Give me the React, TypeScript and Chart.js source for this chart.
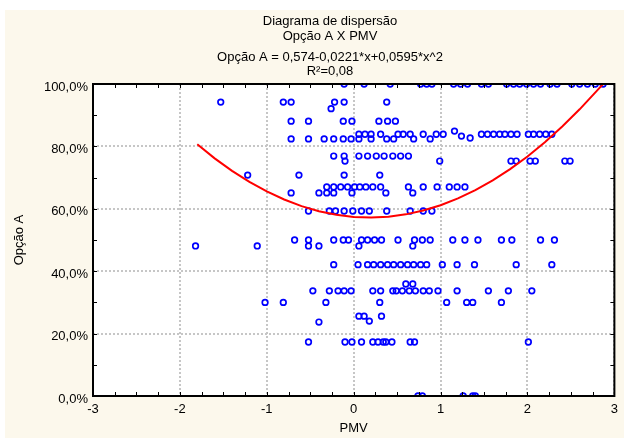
import React, { useEffect, useRef } from 'react';
import { Chart, registerables } from 'chart.js';

Chart.register(...registerables);

const titleLines = ['Diagrama de dispersão', 'Opção A X PMV', 'Opção A = 0,574-0,0221*x+0,0595*x^2', 'R²=0,08'];
const xAxisTitle = 'PMV';
const yAxisTitle = 'Opção A';
const xTickValues = [-3, -2, -1, 0, 1, 2, 3];
const xTickLabels = ['-3', '-2', '-1', '0', '1', '2', '3'];
const yTickValues = [0, 20, 40, 60, 80, 100];
const yTickLabels = ['0,0%', '20,0%', '40,0%', '60,0%', '80,0%', '100,0%'];

// Observed points (PMV, Opção A in %)
const pmv = [
  // 100%
  -0.11, 0.12, 0.42, 0.77, 0.84, 0.90, 1.15, 1.23, 1.31, 1.47, 1.55, 1.76, 1.84, 1.91, 1.99, 2.07, 2.15, 2.26, 2.34, 2.51, 2.60, 2.69, 2.78, 2.87,
  // ~94%
  -1.53, -0.81, -0.72, -0.22, -0.11, 0.38, -0.26,
  // ~88%
  -0.72, -0.52, -0.12, -0.02, 0.29, 0.39, 0.48,
  // ~82-85%
  -0.72, -0.52, -0.34, -0.23, -0.12, -0.03, 0.06, 0.13, 0.20, 0.06, 0.20, 0.31, 0.38, 0.46, 0.51, 0.57, 0.65, 0.69, 0.80, 0.88, 0.95, 1.03, 1.16, 1.24, 1.34, 1.47, 1.54, 1.61, 1.68, 1.74, 1.81, 1.88, 2.01, 2.07, 2.14, 2.21, 2.28,
  // ~77%
  -0.23, -0.11, 0.06, 0.16, 0.26, 0.35, 0.45, 0.54, 0.63,
  // ~75%
  -0.10, 0.99, 1.81, 1.87, 2.03, 2.09, 2.43, 2.49,
  // ~71%
  -1.22, -0.63, -0.11, 0.30,
  // ~67%
  -0.31, -0.23, -0.15, -0.07, 0.01, 0.07, 0.14, 0.22, 0.31, 0.63, 0.80, 0.96, 1.10, 1.19, 1.28,
  // ~65%
  -0.72, -0.40, -0.31, -0.23, -0.02, 0.37, 0.68,
  // ~59%
  -0.52, -0.28, -0.21, -0.11, -0.01, 0.09, 0.18, 0.38, 0.65, 0.80, 0.90,
  // ~50%
  -0.68, -0.52, -0.23, -0.12, -0.06, 0.09, 0.16, 0.24, 0.32, 0.51, 0.70, 0.79, 0.88, 1.14, 1.28, 1.43, 1.70, 1.82, 2.15, 2.31,
  // ~48%
  -1.82, -1.11, -0.52, -0.40, 0.06, 0.68,
  // ~42%
  -0.23, 0.05, 0.16, 0.23, 0.31, 0.39, 0.46, 0.54, 0.62, 0.69, 0.77, 0.84, 1.02, 1.19, 1.39, 1.87, 2.28,
  // ~33.7%
  -0.47, -0.28, -0.18, -0.11, -0.03, 0.22, 0.31, 0.45, 0.49, 0.56, 0.64, 0.71, 0.80, 0.87, 0.97, 1.19, 1.55, 1.78, 2.05,
  // ~36%
  0.60, 0.68,
  // ~30%
  -1.02, -0.81, -0.32, 0.30, 1.07, 1.30, 1.37, 1.70,
  // ~24-26%
  0.06, 0.12, 0.32, 0.18, -0.40,
  // ~17%
  -0.52, -0.10, -0.02, 0.09, 0.22, 0.28, 0.34, 0.37, 0.44, 0.65, 0.70, 2.01,
  // 0%
  0.74, 0.79, 1.26, 1.37, 1.40,
];

const opcaoA = [
  100, 100, 100, 100, 100, 100, 100, 100, 100, 100, 100, 100, 100, 100, 100, 100, 100, 100, 100, 100, 100, 100, 100, 100,
  94.2, 94.2, 94.2, 94.2, 94.2, 94.2, 92.1,
  88.1, 88.1, 88.1, 88.1, 88.1, 88.1, 88.1,
  82.4, 82.4, 82.4, 82.4, 82.4, 82.4, 83.9, 83.9, 83.9, 82.4, 82.4, 83.9, 82.4, 82.4, 83.9, 83.9, 83.9, 82.4, 83.9, 82.4, 83.9, 83.9, 84.9, 83.3, 82.7, 83.9, 83.9, 83.9, 83.9, 83.9, 83.9, 83.9, 83.9, 83.9, 83.9, 83.9, 83.9,
  76.9, 76.9, 76.9, 76.9, 76.9, 76.9, 76.9, 76.9, 76.9,
  75.3, 75.3, 75.3, 75.3, 75.3, 75.3, 75.3, 75.3,
  70.8, 70.8, 70.8, 70.8,
  67.0, 67.0, 67.0, 67.0, 67.0, 67.0, 67.0, 67.0, 67.0, 67.0, 67.0, 67.0, 67.0, 67.0, 67.0,
  65.1, 65.1, 65.1, 65.1, 65.1, 65.1, 65.1,
  59.3, 59.3, 59.3, 59.3, 59.3, 59.3, 59.3, 59.3, 59.3, 59.3, 59.3,
  50.0, 50.0, 50.0, 50.0, 50.0, 50.0, 50.0, 50.0, 50.0, 50.0, 50.0, 50.0, 50.0, 50.0, 50.0, 50.0, 50.0, 50.0, 50.0, 50.0,
  48.1, 48.1, 48.1, 48.1, 48.1, 48.1,
  42.1, 42.1, 42.1, 42.1, 42.1, 42.1, 42.1, 42.1, 42.1, 42.1, 42.1, 42.1, 42.1, 42.1, 42.1, 42.1, 42.1,
  33.7, 33.7, 33.7, 33.7, 33.7, 33.7, 33.7, 33.7, 33.7, 33.7, 33.7, 33.7, 33.7, 33.7, 33.7, 33.7, 33.7, 33.7, 33.7,
  35.9, 35.9,
  30.0, 30.0, 30.0, 30.0, 30.0, 30.0, 30.0, 30.0,
  25.6, 25.6, 25.6, 24.0, 23.7,
  17.3, 17.3, 17.3, 17.3, 17.3, 17.3, 17.3, 17.3, 17.3, 17.3, 17.3, 17.3,
  0, 0, 0, 0, 0,
];

// Fitted quadratic curve as drawn in the picture
const fitPmv = [-1.8, -1.6, -1.4, -1.2, -1.0, -0.8, -0.6, -0.4, -0.2, 0, 0.2, 0.4, 0.6, 0.8, 1.0, 1.2, 1.4, 1.6, 1.8, 2.0, 2.2, 2.4, 2.6, 2.8, 2.87];
const fitOpcaoA = [80.66, 76.17, 72.16, 68.62, 65.56, 62.98, 60.87, 59.24, 58.08, 57.40, 57.20, 57.47, 58.22, 59.44, 61.14, 63.32, 65.97, 69.10, 72.70, 76.78, 81.34, 86.37, 91.88, 97.86, 100.0];

const FONT = 'Arial, "Liberation Sans", sans-serif';
const CREAM = '#fcf8ec';

export default function App() {
  const ref = useRef<HTMLCanvasElement>(null);

  useEffect(() => {
    const canvas = ref.current;
    if (!canvas) return;
    const points = pmv.map((x, i) => ({ x, y: opcaoA[i] }));
    const fit = fitPmv.map((x, i) => ({ x, y: fitOpcaoA[i] }));

    const decor = {
      id: 'decor',
      beforeDraw(chart: any) {
        const { ctx, chartArea: a } = chart;
        ctx.save();
        ctx.fillStyle = '#ffffff';
        ctx.fillRect(0, 0, chart.width, chart.height);
        ctx.fillStyle = CREAM;
        ctx.fillRect(5, 10, chart.width - 5, 428);
        ctx.fillStyle = '#ffffff';
        ctx.fillRect(a.left, a.top, a.right - a.left, a.bottom - a.top);
        ctx.restore();
      },
      afterDatasetsDraw(chart: any) {
        const { ctx, chartArea: a, scales } = chart;
        ctx.save();
        ctx.strokeStyle = '#000';
        ctx.lineWidth = 1;
        ctx.beginPath();
        for (let i = -11; i <= 11; i++) {
          const px = Math.round(scales.x.getPixelForValue(i / 4)) + 0.5;
          ctx.moveTo(px, a.bottom);
          ctx.lineTo(px, a.bottom - 4);
          ctx.moveTo(px, a.top);
          ctx.lineTo(px, a.top + 4);
        }
        for (let i = 1; i < 10; i++) {
          const py = Math.round(scales.y.getPixelForValue(i * 10)) + 0.5;
          ctx.moveTo(a.left, py);
          ctx.lineTo(a.left + 4, py);
          ctx.moveTo(a.right, py);
          ctx.lineTo(a.right - 4, py);
        }
        ctx.stroke();
        ctx.lineWidth = 2;
        ctx.strokeRect(a.left, a.top, a.right - a.left, a.bottom - a.top);
        ctx.restore();
      },
      afterDraw(chart: any) {
        const { ctx } = chart;
        ctx.save();
        ctx.fillStyle = '#000';
        ctx.font = '13px ' + FONT;
        ctx.textAlign = 'center';
        ctx.textBaseline = 'middle';
        const ys = [21, 36, 57, 71];
        titleLines.forEach((t, i) => ctx.fillText(t, 330, ys[i]));
        ctx.restore();
      },
    };

    const chart = new Chart(canvas, {
      type: 'scatter',
      data: {
        datasets: [
          {
            type: 'line',
            data: fit,
            borderColor: '#ff0000',
            borderWidth: 2,
            pointRadius: 0,
            fill: false,
            tension: 0,
            clip: 0,
          } as any,
          {
            data: points,
            borderColor: '#0000ff',
            backgroundColor: 'rgba(0,0,0,0)',
            pointBackgroundColor: 'rgba(0,0,0,0)',
            pointBorderColor: '#0000ff',
            pointRadius: 2.8,
            pointBorderWidth: 1.7,
            pointHoverRadius: 2.8,
            clip: 0,
          } as any,
        ],
      },
      options: {
        responsive: false,
        animation: false,
        devicePixelRatio: 1,
        layout: { padding: { top: 84, right: 2, left: 0, bottom: 0 } },
        plugins: { legend: { display: false }, tooltip: { enabled: false }, title: { display: false } },
        events: [],
        scales: {
          x: {
            type: 'linear',
            position: 'bottom',
            min: -3,
            max: 3,
            afterFit: (s: any) => { s.height = 45; },
            ticks: {
              stepSize: 1,
              padding: 6,
              color: '#000',
              font: { family: FONT, size: 13 },
              callback: (v: any) => xTickLabels[xTickValues.indexOf(Number(v))] ?? '',
            },
            grid: { color: '#c6c6c6', lineWidth: 2, drawTicks: false },
            border: { display: false, dash: [2, 2] },
            title: { display: true, text: xAxisTitle, color: '#000', font: { family: FONT, size: 13 }, padding: { top: 5, bottom: 5 } },
          },
          y: {
            type: 'linear',
            position: 'left',
            min: 0,
            max: 100,
            afterFit: (s: any) => { s.width = 93; },
            ticks: {
              stepSize: 20,
              padding: 5,
              labelOffset: 3,
              color: '#000',
              font: { family: FONT, size: 13 },
              callback: (v: any) => yTickLabels[yTickValues.indexOf(Number(v))] ?? '',
            },
            grid: { color: '#c6c6c6', lineWidth: 2, drawTicks: false },
            border: { display: false, dash: [2, 2] },
            title: { display: true, text: yAxisTitle, color: '#000', font: { family: FONT, size: 13 }, padding: { top: 12, bottom: 12 } },
          },
        },
      } as any,
      plugins: [decor],
    });
    return () => chart.destroy();
  }, []);

  return (
    <div style={{ position: 'fixed', left: 0, top: 0, width: 624, height: 441, background: '#fff' }}>
      <canvas ref={ref} width={624} height={441} style={{ display: 'block', width: 624, height: 441 }} />
    </div>
  );
}
